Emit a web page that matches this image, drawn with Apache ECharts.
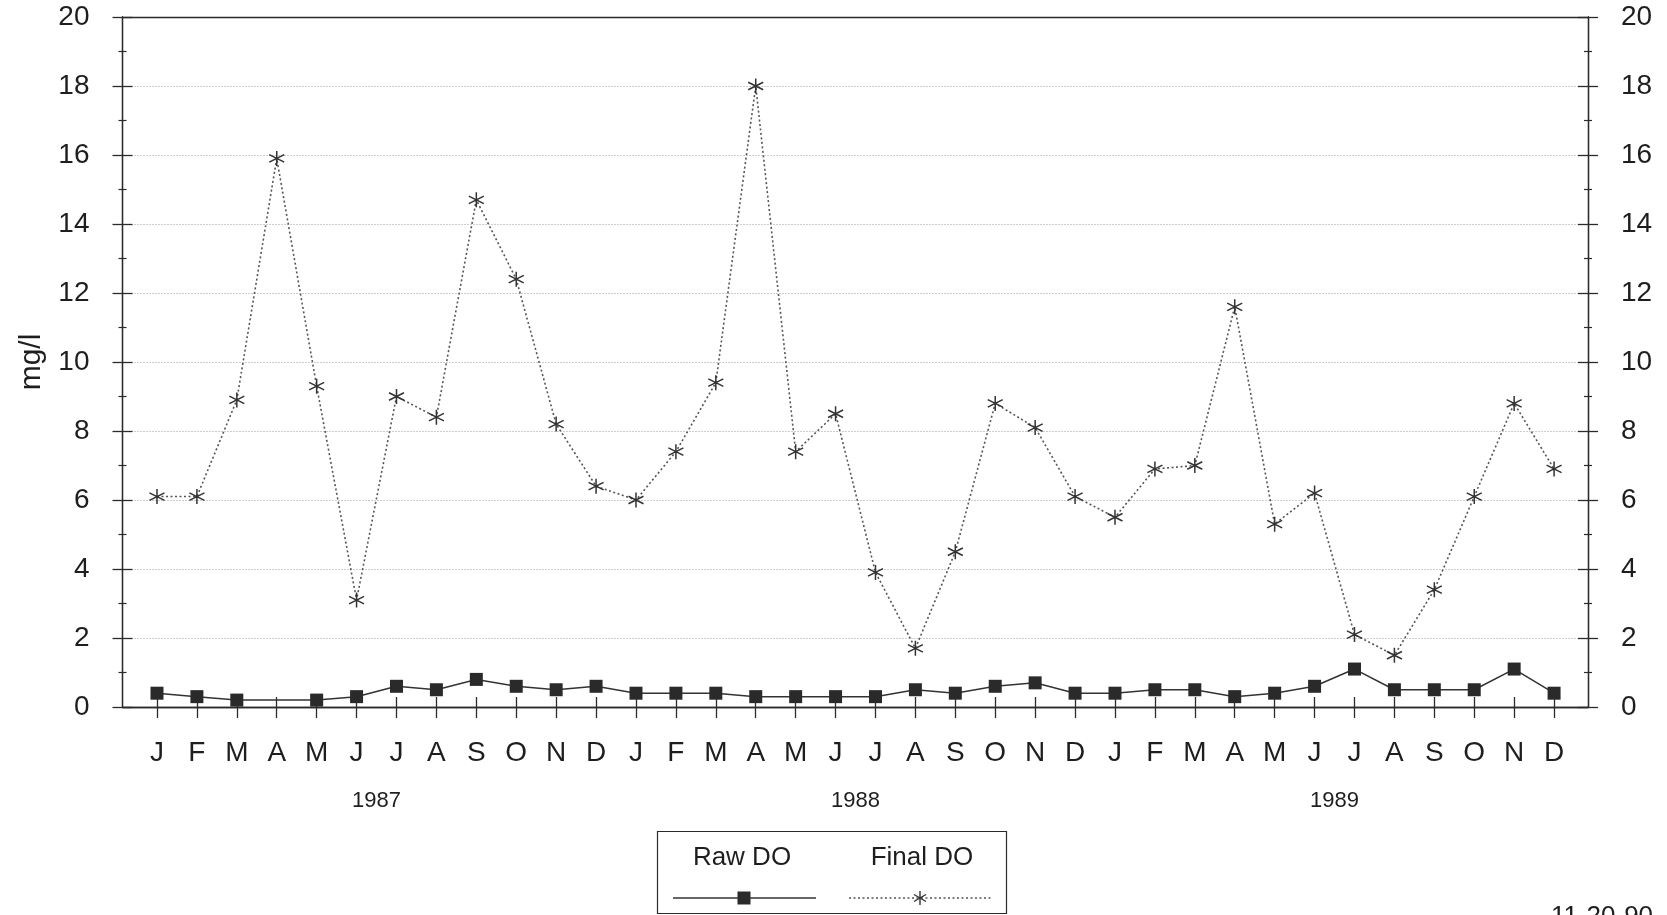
<!DOCTYPE html>
<html>
<head>
<meta charset="utf-8">
<script src="https://cdn.jsdelivr.net/npm/echarts@6/dist/echarts.min.js"></script>
<style>
html,body{margin:0;padding:0;background:#fff;}
#chart{width:1667px;height:915px;}
</style>
</head>
<body>
<div id="chart"></div>
<script>
// ---- data ----
const monthLetters = ['J','F','M','A','M','J','J','A','S','O','N','D'];
const years = ['1987','1988','1989'];
const yTicks = [0,2,4,6,8,10,12,14,16,18,20];
const rawDO = [0.4,0.3,0.2,null,0.2,0.3,0.6,0.5,0.8,0.6,0.5,0.6,
               0.4,0.4,0.4,0.3,0.3,0.3,0.3,0.5,0.4,0.6,0.7,0.4,
               0.4,0.5,0.5,0.3,0.4,0.6,1.1,0.5,0.5,0.5,1.1,0.4];
const finalDO = [6.1,6.1,8.9,15.9,9.3,3.1,9.0,8.4,14.7,12.4,8.2,6.4,
                 6.0,7.4,9.4,18.0,7.4,8.5,3.9,1.7,4.5,8.8,8.1,6.1,
                 5.5,6.9,7.0,11.6,5.3,6.2,2.1,1.5,3.4,6.1,8.8,6.9];
const seriesNames = ['Raw DO','Final DO'];
const yAxisName = 'mg/l';
const dateStamp = '11-20-90';

// ---- build ----
const monthIdx = rawDO.map((_, i) => i);
const yearCenters = years.map((_, k) => k * 12 + 5.5);
const XMIN = -0.864, XMAX = 35.85;
const ink = '#2b2b2b';
const FONT = 'Liberation Sans, Arial, Helvetica, sans-serif';
const starPath = 'path://M10,0L10,20M1.34,5L18.66,15M1.34,15L18.66,5';

function yAx(pos, inside, labels, split, name) {
  return {
    type: 'value', position: pos, min: 0, max: 20, interval: 2,
    axisLine: { show: true, onZero: false, lineStyle: { color: ink, width: 1.3 } },
    axisTick: { show: true, inside: inside, length: 10, lineStyle: { color: ink, width: 1.3 } },
    minorTick: { show: true, splitNumber: 2, length: 4, lineStyle: { color: ink, width: 1.2 } },
    axisLabel: { show: labels, fontSize: 28, color: '#1e1e1e', margin: 33, fontFamily: FONT },
    splitLine: { show: split, lineStyle: { color: '#9a9a9a', width: 1, type: [1, 2] } },
    minorSplitLine: { show: false },
    name: name || '', nameLocation: 'middle', nameGap: 76,
    nameTextStyle: { fontSize: 30, color: '#1e1e1e', fontFamily: FONT }
  };
}
function xAx(pos, opts) {
  return Object.assign({
    type: 'value', position: pos, min: XMIN, max: XMAX,
    axisLine: { show: true, onZero: false, lineStyle: { color: ink, width: 1.3 } },
    axisTick: { show: false },
    axisLabel: { show: false },
    splitLine: { show: false }
  }, opts);
}

const option = {
  backgroundColor: '#fff',
  animation: false,
  grid: { left: 122.5, right: 79, top: 17, bottom: 208, containLabel: false, outerBoundsMode: 'none' },
  xAxis: [
    xAx('bottom', {
      axisTick: { show: true, inside: false, length: 11, customValues: monthIdx, lineStyle: { color: ink, width: 1.3 } },
      axisLabel: { show: true, customValues: monthIdx, fontSize: 28, color: '#1e1e1e', margin: 32, fontFamily: FONT,
                   formatter: v => monthLetters[Math.round(v) % 12] }
    }),
    xAx('bottom', {
      axisTick: { show: true, inside: true, length: 10, customValues: monthIdx, lineStyle: { color: ink, width: 1.3 } }
    }),
    xAx('bottom', {
      axisLine: { show: false, onZero: false },
      axisLabel: { show: true, customValues: yearCenters, fontSize: 22, color: '#1e1e1e', margin: 83, fontFamily: FONT,
                   formatter: v => years[Math.floor(v / 12)] }
    }),
    xAx('top', {})
  ],
  yAxis: [
    yAx('left', false, true, true, yAxisName),
    yAx('left', true, false, false),
    yAx('right', false, true, false),
    yAx('right', true, false, false)
  ],
  series: [
    {
      name: seriesNames[0], type: 'line', xAxisIndex: 0, yAxisIndex: 0,
      data: rawDO.map((v, i) => [i, v]),
      connectNulls: true,
      symbol: 'rect', symbolSize: 13,
      itemStyle: { color: '#2a2a2a' },
      lineStyle: { color: '#333', width: 1.5 },
      z: 3
    },
    {
      name: seriesNames[1], type: 'line', xAxisIndex: 0, yAxisIndex: 0,
      data: finalDO.map((v, i) => [i, v]),
      symbol: starPath, symbolSize: 15,
      itemStyle: { color: 'rgba(0,0,0,0)', borderColor: '#333', borderWidth: 1.5 },
      lineStyle: { color: '#555', width: 1.6, type: [2, 2.5] },
      z: 2
    }
  ],
  graphic: [
    { type: 'rect', shape: { x: 657.5, y: 831.5, width: 349, height: 82 },
      style: { fill: '#fff', stroke: ink, lineWidth: 1.2 } },
    { type: 'text', x: 742, y: 858, style: { text: seriesNames[0], fontSize: 26, fill: '#1e1e1e', fontFamily: FONT,
      textAlign: 'center', textVerticalAlign: 'middle' } },
    { type: 'text', x: 922, y: 858, style: { text: seriesNames[1], fontSize: 26, fill: '#1e1e1e', fontFamily: FONT,
      textAlign: 'center', textVerticalAlign: 'middle' } },
    { type: 'line', shape: { x1: 673, y1: 898, x2: 816, y2: 898 }, style: { stroke: '#333', lineWidth: 1.5 } },
    { type: 'rect', shape: { x: 737.5, y: 891.5, width: 13, height: 13 }, style: { fill: '#2a2a2a' } },
    { type: 'line', shape: { x1: 849, y1: 898, x2: 991, y2: 898 }, style: { stroke: '#555', lineWidth: 1.6, lineDash: [2, 2.5] } },
    { type: 'line', shape: { x1: 920, y1: 891, x2: 920, y2: 905 }, style: { stroke: '#333', lineWidth: 1.4 } },
    { type: 'line', shape: { x1: 914, y1: 894.5, x2: 926, y2: 901.5 }, style: { stroke: '#333', lineWidth: 1.4 } },
    { type: 'line', shape: { x1: 914, y1: 901.5, x2: 926, y2: 894.5 }, style: { stroke: '#333', lineWidth: 1.4 } },
    { type: 'text', x: 1602, y: 904, style: { text: dateStamp, fontSize: 26, fill: '#1e1e1e', fontFamily: FONT,
      textAlign: 'center', textVerticalAlign: 'top' } }
  ]
};

const chart = echarts.init(document.getElementById('chart'), null, { renderer: 'canvas' });
chart.setOption(option);
</script>
</body>
</html>
